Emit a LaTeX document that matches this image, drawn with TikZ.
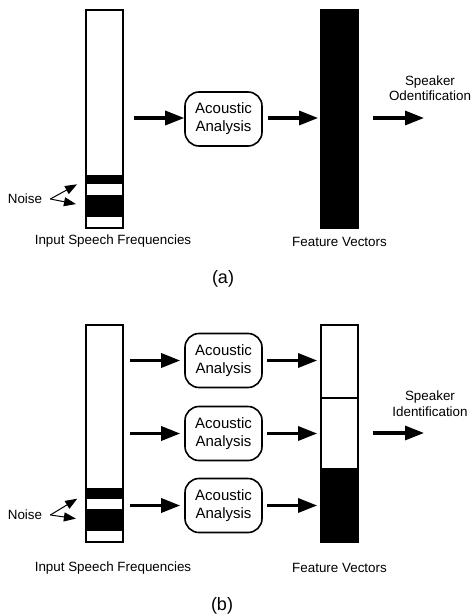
\documentclass[tikz,border=0pt]{standalone}
\usepackage{fontspec}
\setmainfont{Liberation Sans}
\usetikzlibrary{positioning, arrows.meta, calc}

\begin{document}
\begin{tikzpicture}[
    x=1pt, y=-1pt,
    arrow/.style={
        -{Triangle[length=19pt, width=14pt]},
        line width=3.2pt
    },
    thinarrow/.style={
        -{Triangle[length=12pt, width=9pt]},
        line width=1pt
    },
    bar/.style={
        rectangle,
        draw,
        fill=white,
        line width=1.8pt,
        minimum width=37pt,
        inner sep=0pt
    },
    band/.style={
        rectangle,
        fill=black,
        minimum width=37pt,
        inner sep=0pt
    },
    analysis/.style={
        rectangle,
        rounded corners=14pt,
        draw,
        line width=1.6pt,
        minimum width=77pt,
        minimum height=54pt,
        align=center,
        inner sep=0pt,
        font=\fontsize{15}{18}\selectfont
    },
    txt/.style={
        font=\fontsize{13.4}{15.5}\selectfont,
        align=center,
        inner sep=0pt
    },
    sublabel/.style={
        font=\fontsize{18}{20}\selectfont,
        inner sep=0pt
    }
]
    \useasboundingbox (0,0) rectangle (472,615);

    % (a) one analysis for the whole band
    \node[bar, minimum height=218pt] (inA) at (104.5,119) {};
    \node[band, minimum height=9pt] (bandA1) at (104.5,179.5) {};
    \node[band, minimum height=22pt] (bandA2) at (104.5,206) {};
    \node[txt] (noiseA) at (25,199) {Noise};
    \coordinate (nvA) at ($(noiseA.east) + (8,0)$);
    \draw[thinarrow, shorten >=10pt] (nvA) -- (bandA1.west);
    \draw[thinarrow, shorten >=10pt] (nvA) -- (bandA2.west);
    \node[txt] (isfA) at (113,241) {Input Speech Frequencies};

    \node[analysis] (acA) at (223.5,119) {Acoustic\\Analysis};

    \node[bar, fill=black, minimum height=218pt] (fA) at (339.5,119) {};
    \node[txt] (fvA) at (339.5,242) {Feature Vectors};

    \node[txt] (spkA) at (430,88) {Speaker\\Odentification};
    \coordinate (outA) at (424,118);

    \draw[arrow, shorten <=10pt] (inA.east |- 0,118) -- (acA.west |- 0,118);
    \draw[arrow, shorten <=5pt, shorten >=2pt] (acA.east |- 0,118) -- (fA.west |- 0,118);
    \draw[arrow, shorten <=14pt] (fA.east |- outA) -- (outA);

    \node[sublabel] (capA) at (223,279) {(a)};

    % (b) one analysis per sub-band
    \node[bar, minimum height=217pt] (inB) at (104.5,433.5) {};
    \node[band, minimum height=11pt] (bandB1) at (104.5,493.5) {};
    \node[band, minimum height=22pt] (bandB2) at (104.5,520) {};
    \node[txt] (noiseB) at (25,515) {Noise};
    \coordinate (nvB) at ($(noiseB.east) + (8,0)$);
    \draw[thinarrow, shorten >=10pt] (nvB) -- (bandB1.west);
    \draw[thinarrow, shorten >=10pt] (nvB) -- (bandB2.west);
    \node[txt] (isfB) at (113,568) {Input Speech Frequencies};

    \node[analysis] (ac1) at (223.5,360.5) {Acoustic\\Analysis};
    \node[analysis] (ac2) at (223.5,433.5) {Acoustic\\Analysis};
    \node[analysis] (ac3) at (223.5,505.5) {Acoustic\\Analysis};

    \node[bar, minimum height=73pt] (fv1) at (339.5,361.5) {};
    \node[bar, minimum height=71pt] (fv2) at (339.5,433.5) {};
    \node[bar, fill=black, minimum height=73pt] (fv3) at (339.5,505.5) {};
    \node[txt] (fvB) at (339.5,568) {Feature Vectors};

    \node[txt] (spkB) at (430,403.5) {Speaker\\Identification};
    \coordinate (outB) at (424,433);

    \draw[arrow, shorten <=6pt, shorten >=4pt] (inB.east |- ac1) -- (ac1.west);
    \draw[arrow, shorten <=6pt, shorten >=4pt] (inB.east |- ac2) -- (ac2.west);
    \draw[arrow, shorten <=6pt, shorten >=4pt] (inB.east |- ac3) -- (ac3.west);

    \draw[arrow, shorten <=4pt, shorten >=3pt] (ac1.east) -- (ac1 -| fv1.west);
    \draw[arrow, shorten <=4pt, shorten >=3pt] (ac2.east) -- (ac2 -| fv2.west);
    \draw[arrow, shorten <=4pt, shorten >=3pt] (ac3.east) -- (ac3 -| fv3.west);

    \draw[arrow, shorten <=14pt] (fv2.east |- outB) -- (outB);

    \node[sublabel] (capB) at (222,606) {(b)};
\end{tikzpicture}
\end{document}
